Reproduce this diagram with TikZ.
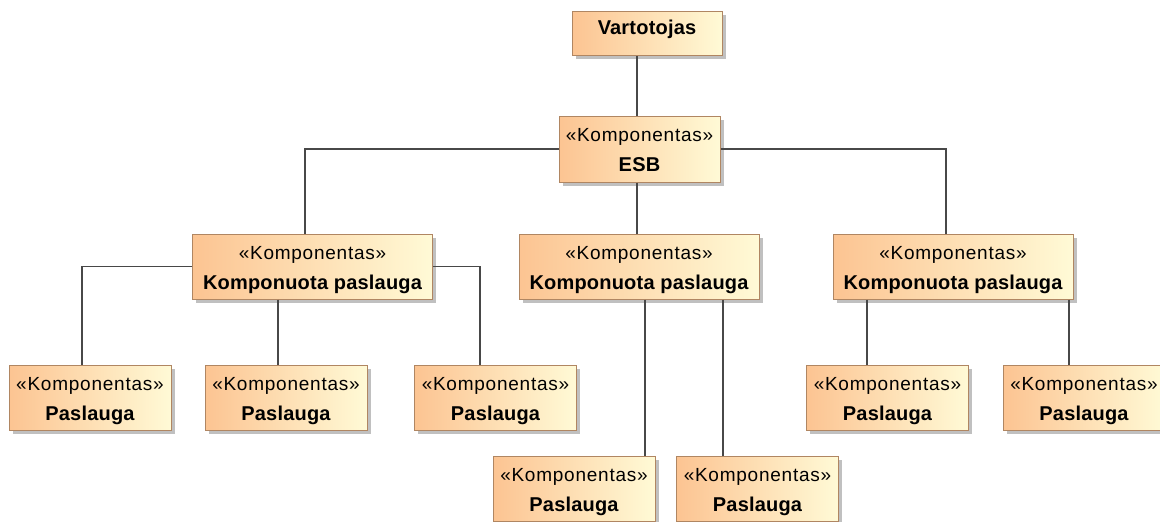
\documentclass[tikz,border=0pt]{standalone}
\usepackage{fontspec}
\setmainfont{Liberation Sans}
\usetikzlibrary{shadows}

\definecolor{boxleft}{RGB}{252,196,146}
\definecolor{boxright}{RGB}{255,250,214}
\definecolor{boxedge}{RGB}{176,134,98}
\definecolor{wire}{RGB}{72,72,72}

% stereotype and component name lines
\newcommand{\stereo}{{\addfontfeature{LetterSpace=4}«Komponentas»}}
\newcommand{\cname}[1]{{\bfseries\fontsize{20}{30}\selectfont\addfontfeature{LetterSpace=1}#1}}

\begin{document}
\begin{tikzpicture}[x=1pt,y=-1pt,
  box/.style={draw=boxedge, line width=1pt,
    left color=boxleft, right color=boxright,
    drop shadow={shadow xshift=3.5pt, shadow yshift=-3.5pt, fill=black!45, opacity=.55},
    inner sep=0pt, align=center,
    font=\fontsize{19}{30}\selectfont},
  comp/.style={box, minimum height=65pt},
  wide/.style={comp, minimum width=240pt},
  leaf/.style={comp, minimum width=162pt},
  link/.style={draw=wire, line width=1.4pt}
]
\useasboundingbox (0,0) rectangle (1160,522);
\clip (0,0) rectangle (1160,522);

% top level
\node[box, minimum width=150pt, anchor=north, text height=23pt, text depth=21pt]
  (user) at (647,11) {\cname{Vartotojas}};
\node[comp, minimum width=161pt, minimum height=66pt] (esb) at (639.5,149)
  {\rule{0pt}{20pt}\stereo\\\cname{ESB\vphantom{p}}};

% composite services
\node[wide] (c1) at (312.5,266.5) {\rule{0pt}{20pt}\stereo\\\cname{Komponuota paslauga}};
\node[wide] (c2) at (639,266.5)   {\rule{0pt}{20pt}\stereo\\\cname{Komponuota paslauga}};
\node[wide] (c3) at (953,266.5)   {\rule{0pt}{20pt}\stereo\\\cname{Komponuota paslauga}};

% elementary services
\node[leaf] (s1) at (90,397.5)    {\rule{0pt}{20pt}\stereo\\\cname{Paslauga}};
\node[leaf] (s2) at (286,397.5)   {\rule{0pt}{20pt}\stereo\\\cname{Paslauga}};
\node[leaf] (s3) at (495.5,397.5) {\rule{0pt}{20pt}\stereo\\\cname{Paslauga}};
\node[leaf] (s4) at (574,488.5)   {\rule{0pt}{20pt}\stereo\\\cname{Paslauga}};
\node[leaf] (s5) at (757.5,488.5) {\rule{0pt}{20pt}\stereo\\\cname{Paslauga}};
\node[leaf] (s6) at (887.5,397.5) {\rule{0pt}{20pt}\stereo\\\cname{Paslauga}};
\node[leaf] (s7) at (1084,397.5)  {\rule{0pt}{20pt}\stereo\\\cname{Paslauga}};

% connectors
\path[link] (user.south -| 637,0) -- (esb.north -| 637,0);
\path[link] (esb.west) -| (c1.north -| 305,0);
\path[link] (esb.south -| 637,0) -- (c2.north -| 637,0);
\path[link] (esb.east) -| (c3.north -| 946,0);

\path[link] (c1.west) -| (s1.north -| 82,0);
\path[link] (c1.south -| 278,0) -- (s2.north -| 278,0);
\path[link] (c1.east) -| (s3.north -| 480,0);

\path[link] (c2.south -| 645,0) -- (s4.north -| 645,0);
\path[link] (c2.south -| 723,0) -- (s5.north -| 723,0);

\path[link] (c3.south -| 867,0) -- (s6.north -| 867,0);
\path[link] (c3.south -| 1069,0) -- (s7.north -| 1069,0);
\end{tikzpicture}
\end{document}
